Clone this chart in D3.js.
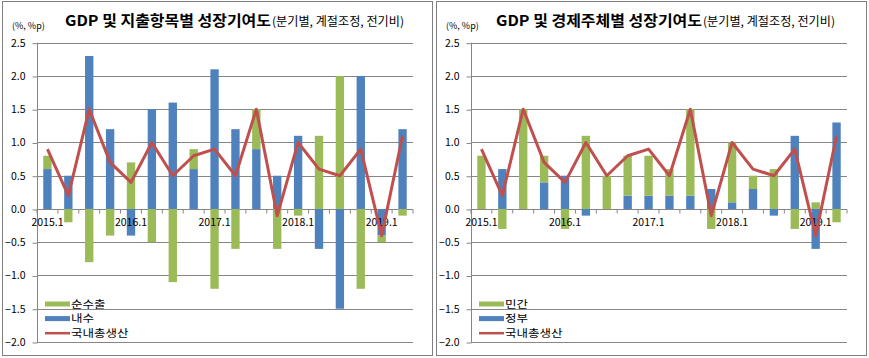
<!DOCTYPE html>
<html><head><meta charset="utf-8">
<script src="https://cdn.jsdelivr.net/npm/d3@7"></script>
<style>body{margin:0;background:#fff;} text{font-family:"Noto Sans CJK KR","Noto Sans",sans-serif;}</style>
</head><body><svg id="c" width="869" height="358"></svg>
<script>
const quarters = ["2015.1","2015.2","2015.3","2015.4","2016.1","2016.2","2016.3","2016.4","2017.1","2017.2","2017.3","2017.4","2018.1","2018.2","2018.3","2018.4","2019.1","2019.2"];
const gdp      = [0.9,0.2,1.5,0.7,0.4,1.0,0.5,0.8,0.9,0.5,1.5,-0.1,1.0,0.6,0.5,0.9,-0.4,1.1];
const domestic = [0.6,0.5,2.3,1.2,-0.4,1.5,1.6,0.6,2.1,1.2,0.9,0.5,1.1,-0.6,-1.5,2.0,-0.4,1.2];
const netExport= [0.2,-0.2,-0.8,-0.4,0.7,-0.5,-1.1,0.3,-1.2,-0.6,0.6,-0.6,-0.1,1.1,2.0,-1.2,-0.1,-0.1];
const privateC = [0.8,-0.3,1.5,0.4,-0.3,1.1,0.5,0.6,0.6,0.4,1.3,-0.3,0.9,0.2,0.6,-0.3,0.1,-0.2];
const government=[0.0,0.6,0.0,0.4,0.5,-0.1,0.0,0.2,0.2,0.2,0.2,0.3,0.1,0.3,-0.1,1.1,-0.6,1.3];
const yTicks = [2.5,2.0,1.5,1.0,0.5,0.0,-0.5,-1.0,-1.5,-2.0];
const xLabels = ["2015.1","2016.1","2017.1","2018.1","2019.1"];

const GREEN="#9BBB59", BLUE="#4F81BD", RED="#C0504D";
const svg = d3.select("#c");

function panel(ox, tx, titleMain, titleSub, series, lineName) {
  const g = svg.append("g").attr("transform",`translate(${ox},0)`);
  g.append("rect").attr("x",2.5).attr("y",1.5).attr("width",430).attr("height",354)
    .attr("fill","none").attr("stroke","#7f7f7f").attr("stroke-width",1);
  const x0=37, x1=413;
  const x = d3.scaleBand().domain(quarters).range([x0,x1]).paddingInner(0.6).paddingOuter(0.3);
  const y = d3.scaleLinear().domain([-2,2.5]).range([342,42.7]);
  g.append("g").selectAll("line").data(yTicks).join("line")
    .attr("x1",x0).attr("x2",x1).attr("y1",d=>Math.round(y(d))+0.5).attr("y2",d=>Math.round(y(d))+0.5)
    .attr("stroke","#868686").attr("stroke-width",1);
  const ya = g.append("g").attr("transform",`translate(${x0+0.5},0)`)
    .call(d3.axisLeft(y).tickValues(yTicks).tickFormat(d3.format(".1f")).tickSize(5).tickPadding(6));
  ya.select(".domain").attr("stroke","#868686").attr("d",`M0,${y(2.5)}V${y(-2)}`);
  ya.selectAll(".tick line").attr("stroke","#868686").attr("transform","translate(0,0.5)");
  ya.selectAll("text").attr("font-size",10.5).attr("fill","#000").attr("dx",-1);
  const rows = quarters.map((q,i)=>{const o={q}; series.forEach(s=>o[s.name]=s.values[i]); return o;});
  const stack = d3.stack().keys(series.map(s=>s.name)).offset(d3.stackOffsetDiverging)(rows);
  stack.forEach((layer,li)=>{
    g.append("g").attr("fill",series[li].color).selectAll("rect").data(layer).join("rect")
      .attr("x",d=>x(d.data.q)).attr("width",x.bandwidth())
      .attr("y",d=>y(Math.max(d[0],d[1]))).attr("height",d=>Math.abs(y(d[0])-y(d[1])));
  });
  const z = Math.round(y(0))+0.5;
  const step = x.step();
  const bounds = d3.range(quarters.length+1).map(i=>x0+i*step);
  g.append("g").selectAll("line").data(bounds).join("line")
    .attr("x1",d=>d).attr("x2",d=>d).attr("y1",z).attr("y2",z+4).attr("stroke","#868686");
  g.append("g").selectAll("text").data(xLabels).join("text")
    .attr("x",d=>x(d)+x.bandwidth()/2).attr("y",226).attr("text-anchor","middle")
    .attr("font-size",10.5).attr("fill","#000").text(d=>d);
  const line = d3.line().x((d,i)=>x(quarters[i])+x.bandwidth()/2).y(d=>y(d));
  g.append("path").datum(gdp).attr("d",line).attr("fill","none").attr("stroke",RED)
    .attr("stroke-width",3).attr("stroke-linejoin","round");
  g.append("text").attr("x",tx).attr("y",26).attr("font-size",15).attr("font-weight","bold")
    .attr("textLength",206).attr("lengthAdjust","spacingAndGlyphs").text(titleMain);
  g.append("text").attr("x",tx+207).attr("y",26).attr("font-size",12)
    .attr("textLength",132).attr("lengthAdjust","spacingAndGlyphs").text(titleSub);
  g.append("text").attr("x",12).attr("y",29).attr("font-size",9).text("(%, %p)");
  const leg = [...series].reverse().map(s=>({name:s.name,color:s.color,type:"bar"})).concat([{name:lineName,color:RED,type:"line"}]);
  const lg = g.append("g");
  leg.forEach((d,i)=>{
    const cy = 304 + i*14.6;
    if(d.type==="bar") lg.append("rect").attr("x",45).attr("y",cy-2.5).attr("width",25).attr("height",5).attr("fill",d.color);
    else lg.append("line").attr("x1",45).attr("x2",70).attr("y1",cy).attr("y2",cy).attr("stroke",d.color).attr("stroke-width",2.5);
    lg.append("text").attr("x",71).attr("y",cy+3.8).attr("font-size",10).attr("textLength",d.name.length*11.5)
      .attr("lengthAdjust","spacingAndGlyphs").text(d.name);
  });
}
panel(0,65,"GDP 및 지출항목별 성장기여도","(분기별, 계절조정, 전기비)",
  [{name:"내수",values:domestic,color:BLUE},{name:"순수출",values:netExport,color:GREEN}],"국내총생산");
panel(434,62,"GDP 및 경제주체별 성장기여도","(분기별, 계절조정, 전기비)",
  [{name:"정부",values:government,color:BLUE},{name:"민간",values:privateC,color:GREEN}],"국내총생산");
</script></body></html>
